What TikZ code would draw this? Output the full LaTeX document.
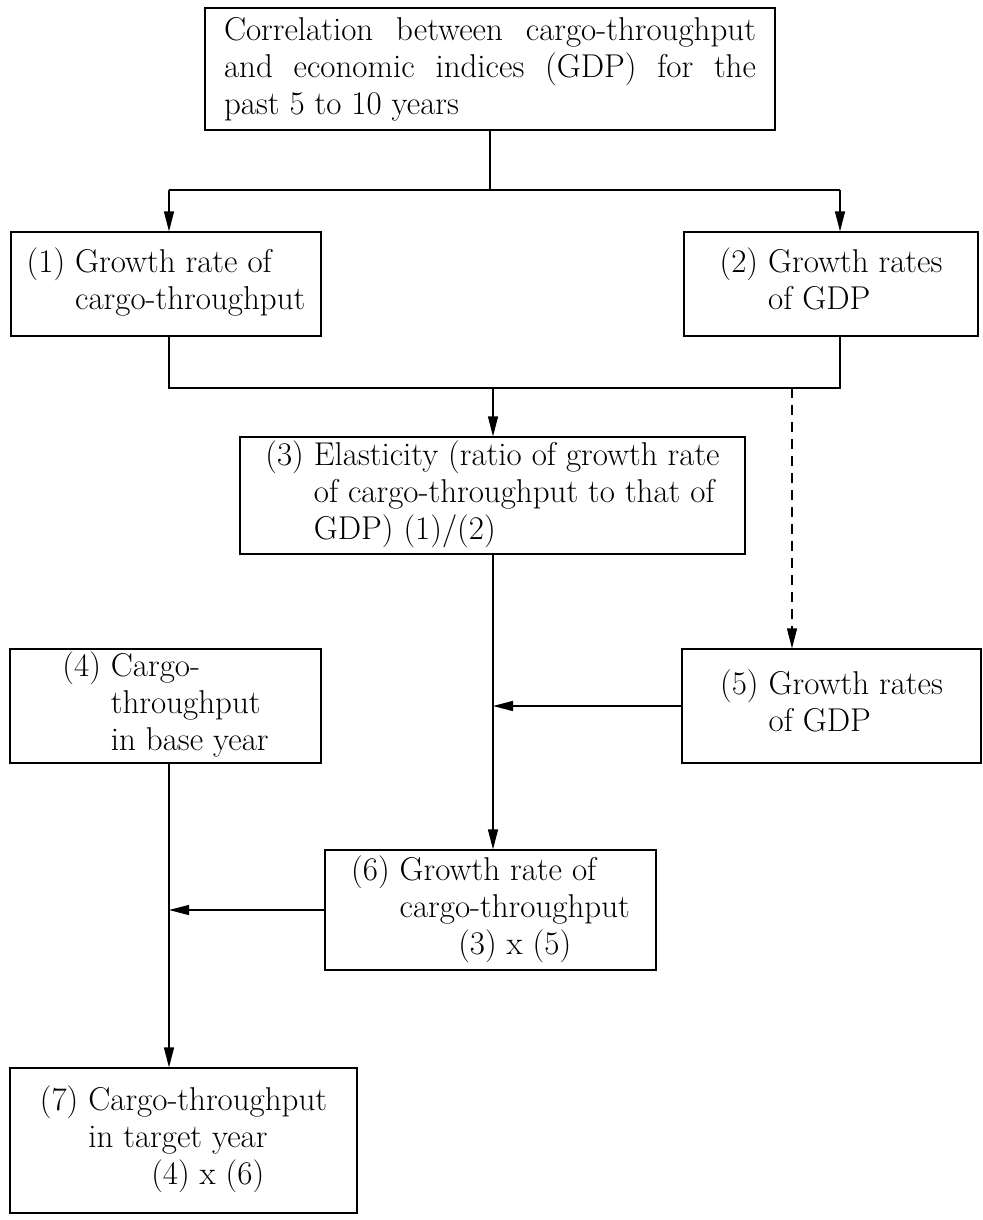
\documentclass[tikz,border=0pt]{standalone}
\usepackage{tikz}
\usetikzlibrary{arrows.meta}

\begin{document}
\begin{tikzpicture}[x=1pt,y=-1pt,
    box/.style={draw,line width=1.2pt,inner sep=0pt,font=\fontsize{33}{37}\selectfont},
    ln/.style={line width=1.2pt},
    arr/.style={ln,-{Triangle[length=20pt,width=10pt]}}]
  \useasboundingbox (0,0) rectangle (982,1220);
  \node[box,minimum width=570pt,minimum height=122pt,text width=532pt,align=justify] (corr) at (490,69)
    {Correlation between cargo-throughput\linebreak and economic indices (GDP) for the\linebreak past 5 to 10 years};
  \node[box,minimum width=310pt,minimum height=104pt] (g1) at (166,284)
    {\begin{tabular}{@{}l@{\ }l@{}}(1)&Growth rate of\\&cargo-throughput\end{tabular}};
  \node[box,minimum width=294pt,minimum height=104pt] (g2) at (831,284)
    {\begin{tabular}{@{}l@{\ }l@{}}(2)&Growth rates\\&of GDP\end{tabular}};
  \node[box,minimum width=505pt,minimum height=117pt] (elast) at (492.5,495.5)
    {\begin{tabular}{@{}l@{\ }l@{}}(3)&Elasticity (ratio of growth rate\\&of cargo-throughput to that of\\&GDP) (1)/(2)\end{tabular}};
  \node[box,minimum width=311pt,minimum height=114pt] (base) at (165.5,706)
    {\begin{tabular}{@{}l@{\ }l@{}}(4)&Cargo-\\&throughput\\&in base year\end{tabular}};
  \node[box,minimum width=299pt,minimum height=114pt] (g5) at (831.5,706)
    {\begin{tabular}{@{}l@{\ }l@{}}(5)&Growth rates\\&of GDP\end{tabular}};
  \node[box,minimum width=331pt,minimum height=120pt] (g6) at (490.5,910)
    {\begin{tabular}{@{}l@{\ }l@{}}(6)&Growth rate of\\&cargo-throughput\\&\multicolumn{1}{c}{(3) x (5)}\end{tabular}};
  \node[box,minimum width=347pt,minimum height=145pt] (target) at (183.5,1140.5)
    {\begin{tabular}{@{}l@{\ }l@{}}(7)&Cargo-throughput\\&in target year\\&\multicolumn{1}{c}{(4) x (6)}\end{tabular}};
  \coordinate (s0) at (490,190);
  \coordinate (s1) at (169,190);
  \coordinate (s2) at (840,190);
  \coordinate (j1) at (169,388);
  \coordinate (j2) at (840,388);
  \coordinate (jm) at (493,388);
  \coordinate (jd) at (792,388);
  \draw[ln] (corr.south -| s0) -- (s0);
  \draw[ln] (s1) -- (s2);
  \draw[arr] (s1) -- (s1 |- g1.north);
  \draw[arr] (s2) -- (s2 |- g2.north);
  \draw[ln] (g1.south -| j1) -- (j1) -- (j2) -- (g2.south -| j2);
  \draw[arr] (jm) -- (jm |- elast.north);
  \draw[arr,dash pattern=on 10pt off 7pt] (jd) -- (jd |- g5.north);
  \draw[arr] (elast.south -| jm) -- (jm |- g6.north);
  \draw[arr] (g5.west) -- (jm |- g5.west);
  \draw[arr] (base.south -| j1) -- (j1 |- target.north);
  \draw[arr] (g6.west) -- (j1 |- g6.west);
\end{tikzpicture}
\end{document}
